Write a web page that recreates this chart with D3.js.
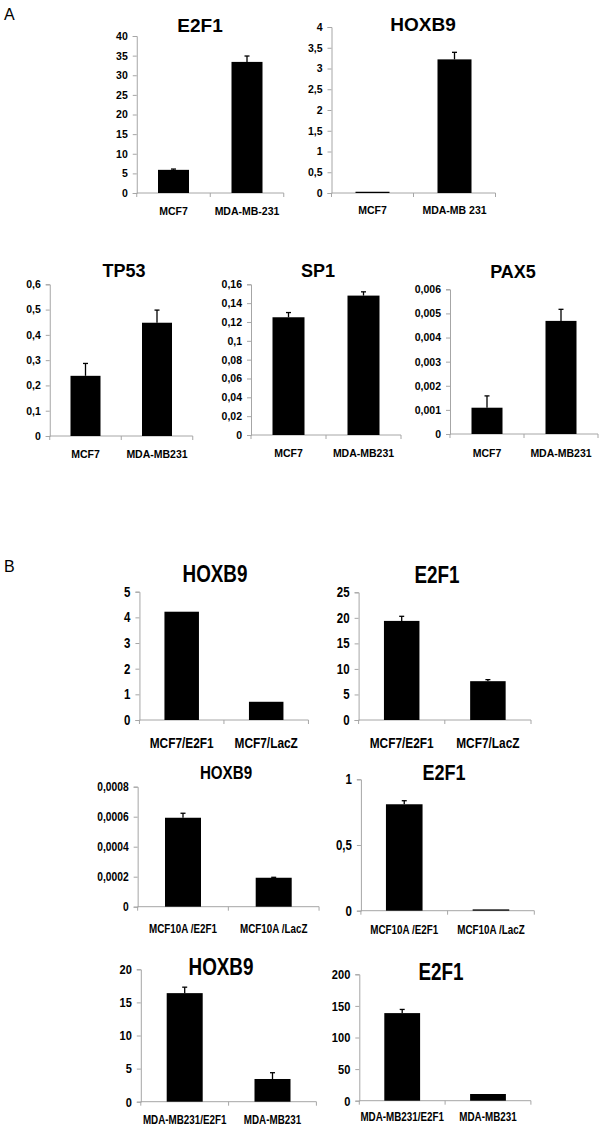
<!DOCTYPE html>
<html>
<head>
<meta charset="utf-8">
<script src="https://cdn.jsdelivr.net/npm/d3@7"></script>
<style>
  body { margin: 0; background: #fff; }
  svg { display: block; }
</style>
</head>
<body>
<svg id="fig" width="604" height="1129"></svg>
<script>
// ---- data, panel A ----
const genesA = ["E2F1", "HOXB9", "TP53", "SP1", "PAX5"]
const catsA = [
  ["MCF7", "MDA-MB-231"],
  ["MCF7", "MDA-MB 231"],
  ["MCF7", "MDA-MB231"],
  ["MCF7", "MDA-MB231"],
  ["MCF7", "MDA-MB231"]
]
const valsA = [[5.9, 33.4], [0.03, 3.22], [0.238, 0.448], [0.125, 0.148], [0.00109, 0.00469]]
const errsA = [[0.2, 1.5], [0, 0.17], [0.049, 0.05], [0.005, 0.004], [0.00049, 0.00048]]
const ticksA = [
  [0, 5, 10, 15, 20, 25, 30, 35, 40],
  [0, 0.5, 1, 1.5, 2, 2.5, 3, 3.5, 4],
  [0, 0.1, 0.2, 0.3, 0.4, 0.5, 0.6],
  [0, 0.02, 0.04, 0.06, 0.08, 0.1, 0.12, 0.14, 0.16],
  [0, 0.001, 0.002, 0.003, 0.004, 0.005, 0.006]
]

// ---- data, panel B ----
const genesB = ["HOXB9", "E2F1", "HOXB9", "E2F1", "HOXB9", "E2F1"]
const catsB = [
  ["MCF7/E2F1", "MCF7/LacZ"],
  ["MCF7/E2F1", "MCF7/LacZ"],
  ["MCF10A /E2F1", "MCF10A /LacZ"],
  ["MCF10A /E2F1", "MCF10A /LacZ"],
  ["MDA-MB231/E2F1", "MDA-MB231"],
  ["MDA-MB231/E2F1", "MDA-MB231"]
]
const valsB = [[4.22, 0.71], [19.4, 7.6], [0.000593, 0.000193], [0.81, 0.01], [16.4, 3.43], [138.6, 10.6]]
const errsB = [[0, 0], [0.9, 0.3], [0.00003, 0.000003], [0.027, 0], [0.9, 0.95], [5.8, 0]]
const ticksB = [
  [0, 1, 2, 3, 4, 5],
  [0, 5, 10, 15, 20, 25],
  [0, 0.0002, 0.0004, 0.0006, 0.0008],
  [0, 0.5, 1],
  [0, 5, 10, 15, 20],
  [0, 50, 100, 150, 200]
]

// layout of each small chart (x of y axis, plot width, top/bottom of y axis, title, text sizes)
const layoutA = [
  {x0: 136.75, w: 147, top: 36, base: 193, bw: 31, tx: 200, ty: 31.5, tsize: 19, lab: 22, fs: 10.5, cs: 10.5},
  {x0: 331.5, w: 164, top: 27, base: 193, bw: 34, tx: 423, ty: 30.5, tsize: 19, lab: 21, fs: 10.5, cs: 10.5},
  {x0: 49.75, w: 143, top: 284.3, base: 436, bw: 30, tx: 124, ty: 277, tsize: 18, lab: 22, fs: 10.5, cs: 10.5},
  {x0: 251, w: 150, top: 284.3, base: 435, bw: 32, tx: 318, ty: 277, tsize: 18, lab: 22, fs: 10.5, cs: 10.5},
  {x0: 450, w: 148, top: 289.3, base: 434, bw: 31, tx: 513, ty: 278, tsize: 18, lab: 23, fs: 10.5, cs: 10.5}
]
const layoutB = [
  {x0: 139.45, w: 169, top: 591.7, base: 720, bw: 34.5, tx: 215, ty: 582, tsize: 23, lab: 28, fs: 14, cs: 14.5},
  {x0: 358.6, w: 172.4, top: 592.3, base: 720, bw: 35.5, tx: 437, ty: 582.5, tsize: 23, lab: 28, fs: 14, cs: 14.5},
  {x0: 137.65, w: 181.4, top: 786.7, base: 906.7, bw: 36, tx: 226, ty: 779, tsize: 18.5, lab: 26, fs: 12.5, cs: 12},
  {x0: 360.9, w: 173.4, top: 779.3, base: 910.7, bw: 36.6, tx: 444, ty: 780, tsize: 22, lab: 23, fs: 14, cs: 12},
  {x0: 140.8, w: 175.6, top: 969.3, base: 1101.7, bw: 36, tx: 221, ty: 975, tsize: 23, lab: 22, fs: 13.5, cs: 12},
  {x0: 359.3, w: 171.6, top: 974.3, base: 1100.7, bw: 35.8, tx: 441, ty: 980, tsize: 23, lab: 20, fs: 13.5, cs: 12}
]

const font = "'Liberation Sans', Arial, sans-serif"
const axisColor = "#a6a6a6"

const svg = d3.select('#fig')

const fmt = d => String(d).replace(".", ",")

// sx = horizontal squeeze of the text (panel B uses a narrow face)
function drawChart(title, cats, vals, errs, ticks, L, sx) {
  const g = svg.append('g')

  const xScale = d3.scaleBand()
    .domain(cats)
    .range([L.x0, L.x0 + L.w])
    .paddingInner(1 - 2 * L.bw / L.w)
    .paddingOuter((1 - 2 * L.bw / L.w) / 2)

  const yScale = d3.scaleLinear()
    .domain([0, ticks[ticks.length - 1]])
    .range([L.base, L.top])

  // y axis
  const yAxis = g.append('g')
    .attr('transform', `translate(${L.x0},0)`)
    .call(d3.axisLeft(yScale).tickValues(ticks).tickFormat(fmt).tickSize(4).tickPadding(5))
  yAxis.select('.domain').attr('stroke', axisColor)
  yAxis.selectAll('.tick line').attr('stroke', axisColor)
  yAxis.selectAll('.tick text')
    .attr('x', -9 / sx)
    .attr('transform', `scale(${sx},1)`)
    .attr('font-family', font)
    .attr('font-weight', 'bold')
    .attr('font-size', L.fs)
    .attr('fill', '#000')

  // x axis line with ticks at band edges
  const xAxis = g.append('g')
    .attr('transform', `translate(0,${L.base})`)
  xAxis.append('line')
    .attr('x1', L.x0).attr('x2', L.x0 + L.w)
    .attr('stroke', axisColor)
  const edges = [L.x0, L.x0 + L.w / 2, L.x0 + L.w]
  xAxis.selectAll('.xt')
    .data(edges)
    .enter()
    .append('line')
    .attr('x1', d => d).attr('x2', d => d)
    .attr('y1', 0).attr('y2', 4)
    .attr('stroke', axisColor)

  xAxis.selectAll('.cat')
    .data(cats)
    .enter()
    .append('text')
    .attr('transform', d => `translate(${xScale(d) + xScale.bandwidth() / 2},${L.lab}) scale(${sx},1)`)
    .attr('text-anchor', 'middle')
    .attr('font-family', font)
    .attr('font-weight', 'bold')
    .attr('font-size', L.cs)
    .text(d => d)

  // bars
  const rows = cats.map((c, i) => ({c: c, v: vals[i], e: errs[i]}))

  g.selectAll('.bar')
    .data(rows)
    .enter()
    .append('rect')
    .attr('x', d => xScale(d.c))
    .attr('y', d => yScale(d.v))
    .attr('width', xScale.bandwidth())
    .attr('height', d => L.base - yScale(d.v))
    .attr('fill', '#000')

  // error bars (upper only)
  const eb = g.selectAll('.err')
    .data(rows.filter(d => d.e > 0))
    .enter()
    .append('g')
  eb.append('line')
    .attr('x1', d => xScale(d.c) + xScale.bandwidth() / 2)
    .attr('x2', d => xScale(d.c) + xScale.bandwidth() / 2)
    .attr('y1', d => yScale(d.v))
    .attr('y2', d => yScale(d.v + d.e))
    .attr('stroke', '#000').attr('stroke-width', 1.3)
  eb.append('line')
    .attr('x1', d => xScale(d.c) + xScale.bandwidth() / 2 - 2.5)
    .attr('x2', d => xScale(d.c) + xScale.bandwidth() / 2 + 2.5)
    .attr('y1', d => yScale(d.v + d.e))
    .attr('y2', d => yScale(d.v + d.e))
    .attr('stroke', '#000').attr('stroke-width', 1.3)

  g.append('text')
    .attr('transform', `translate(${L.tx},${L.ty}) scale(${sx},1)`)
    .attr('text-anchor', 'middle')
    .attr('font-family', font)
    .attr('font-weight', 'bold')
    .attr('font-size', L.tsize)
    .text(title)
}

for (let i = 0; i < genesA.length; i++) {
  drawChart(genesA[i], catsA[i], valsA[i], errsA[i], ticksA[i], layoutA[i], 1)
}
for (let i = 0; i < genesB.length; i++) {
  drawChart(genesB[i], catsB[i], valsB[i], errsB[i], ticksB[i], layoutB[i], 0.82)
}

// panel letters
svg.append('text').attr('x', 4).attr('y', 20)
  .attr('font-family', font).attr('font-size', 16).text('A')
svg.append('text').attr('x', 4).attr('y', 572)
  .attr('font-family', font).attr('font-size', 16).text('B')
</script>
</body>
</html>
